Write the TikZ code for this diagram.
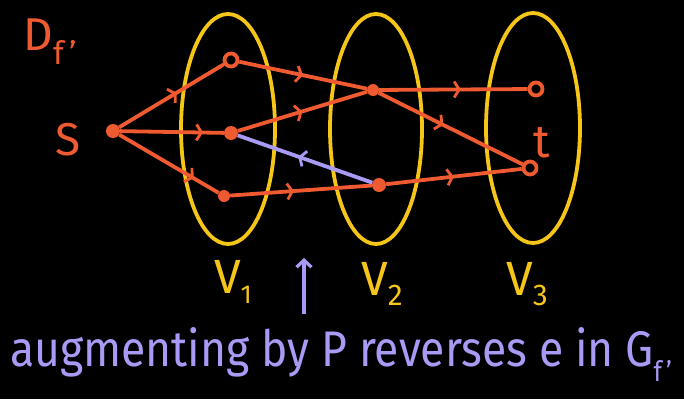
\documentclass[tikz,border=0pt]{standalone}
\usepackage{fontspec}
\setmainfont{Fira Sans}
\usetikzlibrary{arrows.meta,decorations.markings}
\definecolor{org}{HTML}{F05A30}
\definecolor{yel}{HTML}{F5C518}
\definecolor{pur}{HTML}{A99BF5}
\tikzset{
  edge/.style={org, line width=3.8pt},
  redge/.style={pur, line width=3.8pt},
  midarr/.style={postaction={decorate,decoration={markings,mark=at position #1 with {\arrow[line width=2.8pt]{Straight Barb[length=5pt,width=16pt]}}}}},
  fdot/.style={circle, fill=org, inner sep=0pt, minimum size=14pt},
  odot/.style={circle, draw=org, fill=black, line width=3.8pt, inner sep=0pt, minimum size=13pt},
  layer/.style={yel, line width=3.8pt},
  olab/.style={text=org, font=\fontsize{46}{46}\selectfont\fontseries{l}},
  ylab/.style={text=yel, font=\fontsize{48}{48}\selectfont\fontseries{l}},
}
\begin{document}
\begin{tikzpicture}[x=1pt,y=-1pt]
\fill[black] (0,0) rectangle (684,399);
\useasboundingbox (0,0) rectangle (684,399);
% layers
\draw[layer] (228,129) ellipse [x radius=47, y radius=115];
\draw[layer] (376,129) ellipse [x radius=46, y radius=115];
\draw[layer] (533,128) ellipse [x radius=47, y radius=115];
% nodes
\node[fdot] (s) at (113,131) {};
\node[odot] (a1) at (231,60) {};
\node[fdot] (a2) at (231,133) {};
\node[fdot, minimum size=12pt] (a3) at (224,196) {};
\node[fdot, minimum size=12pt] (b1) at (373,90) {};
\node[fdot] (b2) at (379,185) {};
\node[odot] (c1) at (536,89) {};
\node[odot] (t) at (530,168) {};
% edges
\draw[edge, midarr=0.55] (s) -- (a1);
\draw[edge, midarr=0.8] (s) -- (a2);
\draw[edge, midarr=0.75] (s) -- (a3);
\draw[edge, midarr=0.5] (a1) -- (b1);
\draw[edge, midarr=0.5] (a2) -- (b1);
\draw[edge, midarr=0.55] (b1) -- (c1);
\draw[edge, midarr=0.45] (b1) -- (t);
\draw[edge, midarr=0.45] (a3) -- (b2);
\draw[edge, midarr=0.5] (b2) -- (t);
\draw[redge, midarr=0.55] (b2) -- (a2);
% labels
\node[olab] (df) at (50,42) {D\raisebox{-0.3em}{\fontsize{32}{32}\selectfont f\,'}};
\node[olab] (slab) at (68,140) {S};
\node[olab] (tlab) at (542,143) {t};
\node[ylab] (v1) at (233,282) {V\raisebox{-0.2em}{\fontsize{26}{26}\selectfont 1}};
\node[ylab] (v2) at (382,284) {V\raisebox{-0.2em}{\fontsize{30}{30}\selectfont 2}};
\node[ylab] (v3) at (527,284) {V\raisebox{-0.2em}{\fontsize{30}{30}\selectfont 3}};
\coordinate (ptop) at (304,258);
\coordinate (pbot) at (304,314);
\draw[pur, line width=3.2pt, -{Straight Barb[length=7pt,width=15pt]}] (pbot) -- (ptop);
\node[text=pur, font=\fontsize{50}{50}\selectfont\fontseries{l}, anchor=base west, xscale=0.89, inner sep=0pt] (cap) at (10,366) {augmenting by P reverses e in G\raisebox{-0.3em}{\fontsize{28}{28}\selectfont f\,'}};
\end{tikzpicture}
\end{document}
